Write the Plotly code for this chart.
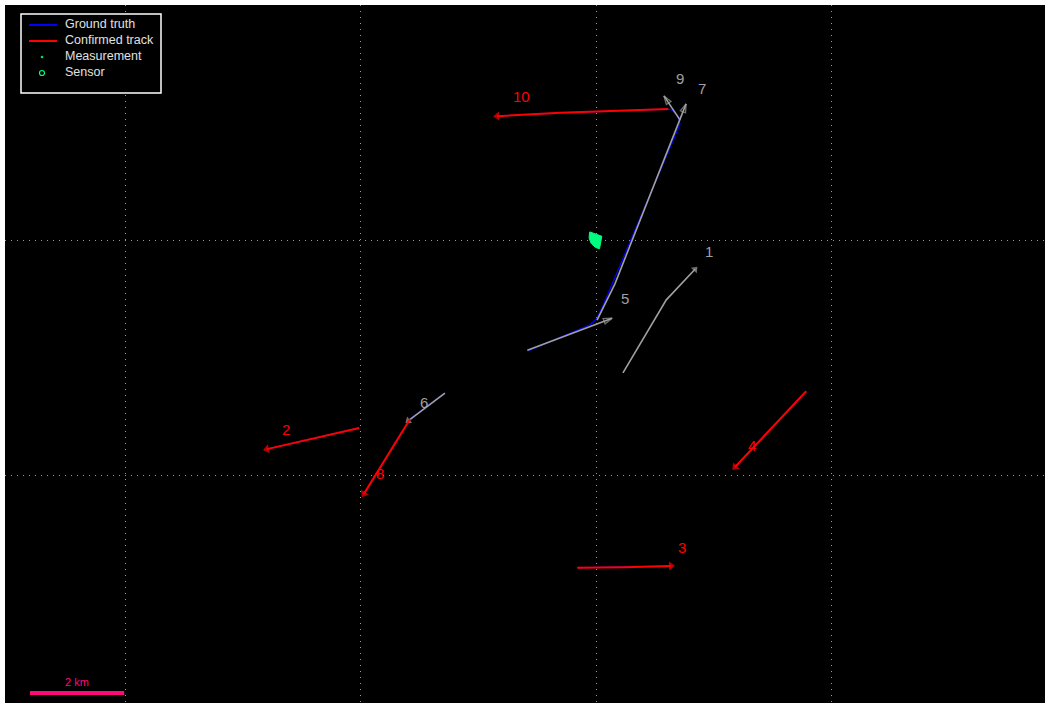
import numpy as np
import plotly.graph_objects as go

# Positions in km relative to the sensor (east = x, north = y)

# Ground truth trajectories
truth_a_x = [-1.46, -0.13, 0.02, 0.15, 1.78, 1.74, 1.61, 1.53, 0.51, -0.76, -2.10]
truth_a_y = [-2.36, -1.80, -1.66, -1.38, 2.46, 2.63, 2.76, 2.78, 2.74, 2.70, 2.63]
truth_b_x = [-3.21, -3.95, -4.93]
truth_b_y = [-3.25, -3.80, -5.39]
truth_c_x = [-5.03, -6.99]
truth_c_y = [-3.99, -4.44]
truth_d_x = [-0.40, 1.59]
truth_d_y = [-6.96, -6.92]
truth_e_x = [4.46, 2.95]
truth_e_y = [-3.21, -4.82]

# Confirmed tracks
conf_ids = ["10", "8", "2", "3", "4"]
conf_x = [[1.53, 0.51, -0.76, -2.10], [-3.95, -4.93], [-5.03, -6.99], [-0.40, 0.60, 1.59], [4.46, 2.95]]
conf_y = [[2.78, 2.74, 2.70, 2.63], [-3.80, -5.39], [-3.99, -4.44], [-6.96, -6.95, -6.92], [-3.21, -4.82]]

# Tentative tracks
tent_ids = ["7", "9", "5", "1", "6"]
tent_x = [[0.02, 0.40, 1.91], [1.78, 1.44], [-1.46, 0.34], [0.57, 1.49, 2.10], [-3.21, -3.99]]
tent_y = [[-1.70, -0.93, 2.89], [2.55, 3.06], [-2.34, -1.66], [-2.82, -1.27, -0.62], [-3.25, -3.84]]
tent_open = [True, True, True, False, False]

# Track label positions
label_ids = ["10", "9", "7", "5", "1", "6", "8", "2", "3", "4"]
label_x = [-1.59, 1.78, 2.25, 0.62, 2.40, -3.65, -4.59, -6.58, 1.83, 3.31]
label_y = [3.04, 3.44, 3.21, -1.25, -0.25, -3.44, -4.95, -4.03, -6.52, -4.37]
label_confirmed = [True, False, False, False, False, False, True, True, True, True]

# Sensor and its beam sector
sensor_x, sensor_y = 0.12, 0.08
beam_az_deg = 210.0
beam_width_deg = 100.0
beam_range_km = 0.27

# Legend entries
legend_labels = ["Ground truth", "Confirmed track", "Measurement", "Sensor"]

RED = "#ff0000"
BLUE = "#0000ff"
GRAY = "#a0a0a0"
GREEN = "#00ff7f"
PINK = "#ff0a78"
FONT = "Liberation Sans, Arial"

fig = go.Figure()

# Ground truth
for tx, ty in [(truth_a_x, truth_a_y), (truth_b_x, truth_b_y), (truth_c_x, truth_c_y),
               (truth_d_x, truth_d_y), (truth_e_x, truth_e_y)]:
    fig.add_trace(go.Scatter(x=tx, y=ty, mode="lines", line=dict(color=BLUE, width=1.2),
                             showlegend=False, hoverinfo="skip"))

# Tentative tracks (gray)
for tid, tx, ty, op in zip(tent_ids, tent_x, tent_y, tent_open):
    n = len(tx)
    fig.add_trace(go.Scatter(
        x=tx, y=ty, mode="lines+markers", line=dict(color=GRAY, width=1.6),
        marker=dict(symbol="arrow-open" if op else "triangle-up", angleref="previous",
                    size=[0] * (n - 1) + [9 if op else 7], color=GRAY,
                    line=dict(color=GRAY, width=1.3 if op else 0)),
        showlegend=False, hoverinfo="skip"))

# Confirmed tracks (red)
for tid, tx, ty in zip(conf_ids, conf_x, conf_y):
    n = len(tx)
    fig.add_trace(go.Scatter(
        x=tx, y=ty, mode="lines+markers", line=dict(color=RED, width=2),
        marker=dict(symbol="triangle-up", angleref="previous", size=[0] * (n - 1) + [8],
                    color=RED, line=dict(width=0)),
        showlegend=False, hoverinfo="skip"))

# Sensor beam sector
ang = np.deg2rad(np.linspace(beam_az_deg - beam_width_deg / 2, beam_az_deg + beam_width_deg / 2, 20))
bx = np.concatenate([[sensor_x], sensor_x + beam_range_km * np.cos(ang), [sensor_x]])
by = np.concatenate([[sensor_y], sensor_y + beam_range_km * np.sin(ang), [sensor_y]])
fig.add_trace(go.Scatter(x=bx, y=by, mode="lines", fill="toself", fillcolor=GREEN,
                         line=dict(color=GREEN, width=1), showlegend=False, hoverinfo="skip"))

# Track labels
for lid, lx, ly, c in zip(label_ids, label_x, label_y, label_confirmed):
    fig.add_annotation(x=lx, y=ly, text=lid, showarrow=False,
                       font=dict(family=FONT, size=15, color=RED if c else GRAY))

# Scale bar (2 km)
bar_x0, bar_len, bar_y = -12.02, 2.0, -9.62
fig.add_shape(type="line", x0=bar_x0, x1=bar_x0 + bar_len, y0=bar_y, y1=bar_y,
              line=dict(color=PINK, width=4), layer="above")
fig.add_annotation(x=bar_x0 + bar_len / 2, y=bar_y + 0.24, text="2 km", showarrow=False,
                   font=dict(family=FONT, size=11, color=PINK))

# Legend box in the upper-left corner (paper coordinates)
W, H, ML, MT = 1050, 706, 5, 5
PW, PH = W - 10, H - 8


def px(xp):
    return (xp - ML) / PW


def py(yp):
    return 1 - (yp - MT) / PH


fig.add_shape(type="rect", xref="paper", yref="paper", x0=px(21), x1=px(161), y0=py(14), y1=py(93),
              fillcolor="black", line=dict(color="white", width=1.5), layer="above")
row_y = [25, 41, 57, 73]
fig.add_shape(type="line", xref="paper", yref="paper", x0=px(29), x1=px(57), y0=py(row_y[0]), y1=py(row_y[0]),
              line=dict(color=BLUE, width=2), layer="above")
fig.add_shape(type="line", xref="paper", yref="paper", x0=px(29), x1=px(57), y0=py(row_y[1]), y1=py(row_y[1]),
              line=dict(color=RED, width=2), layer="above")
fig.add_shape(type="circle", xref="paper", yref="paper", x0=px(41), x1=px(43), y0=py(row_y[2] + 1), y1=py(row_y[2] - 1),
              fillcolor=GREEN, line=dict(color=GREEN, width=0.5), layer="above")
fig.add_shape(type="circle", xref="paper", yref="paper", x0=px(39.5), x1=px(44.5), y0=py(row_y[3] + 2.5), y1=py(row_y[3] - 2.5),
              line=dict(color=GREEN, width=1.2), layer="above")
for lab, ry in zip(legend_labels, row_y):
    fig.add_annotation(xref="paper", yref="paper", x=px(63), y=py(ry - 1), text=lab, showarrow=False,
                       xanchor="left", yanchor="middle",
                       font=dict(family=FONT, size=12.5, color="#e0e0e0"))

axis_common = dict(showgrid=True, gridcolor="#9a9a9a", griddash="1px,5px", gridwidth=1,
                   zeroline=False, showticklabels=False, ticks="", dtick=5, tick0=0,
                   showline=False)

fig.update_layout(
    width=W, height=H,
    margin=dict(l=ML, r=5, t=MT, b=3),
    paper_bgcolor="white",
    plot_bgcolor="black",
    xaxis=dict(range=[-12.55, 9.53], **axis_common),
    yaxis=dict(range=[-9.83, 4.99], scaleanchor="x", scaleratio=1, **axis_common),
    showlegend=False,
)

fig.write_html("out.html")
